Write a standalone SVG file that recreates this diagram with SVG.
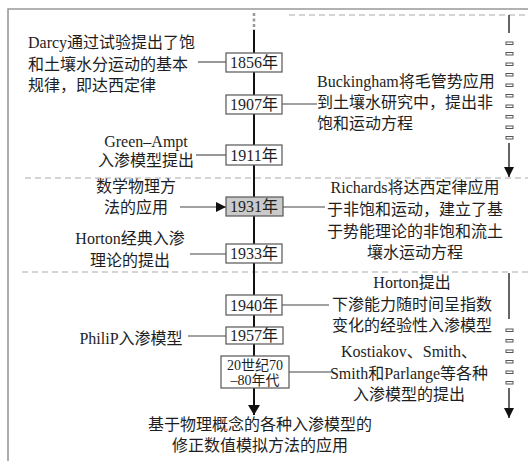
<svg xmlns="http://www.w3.org/2000/svg" width="528" height="461" viewBox="0 0 528 461">
<style>
text{font-family:"Liberation Serif","Noto Sans CJK SC",serif;font-size:16px;fill:#1e1e1e}
.c{text-anchor:middle}
.box{fill:#fff;stroke:#555;stroke-width:1.2}
.con{stroke:#444;stroke-width:1.1;fill:none}
.dash{stroke:#aaa;stroke-width:1.2;stroke-dasharray:6 4;fill:none}
.mark{fill:#fff;stroke:#555;stroke-width:1}
.sm{font-size:14px}
</style>
<defs>
<marker id="ah" viewBox="0 0 10 10" refX="10" refY="5" markerWidth="10" markerHeight="10" markerUnits="userSpaceOnUse" orient="auto"><path d="M0,0 L10,5 L0,10 Z" fill="#111"/></marker>
<marker id="ahb" viewBox="0 0 10 12" refX="10" refY="6" markerWidth="12" markerHeight="12" markerUnits="userSpaceOnUse" orient="auto"><path d="M0,0 L10,6 L0,12 Z" fill="#111"/></marker>
</defs>
<rect width="528" height="461" fill="#fff"/>
<path d="M8,461 V9 H528" stroke="#999" stroke-width="1.6" fill="none"/>
<g id="separators">
<line class="dash" x1="289" y1="15" x2="528" y2="15"/>
<line class="dash" x1="25" y1="178" x2="528" y2="178"/>
<line class="dash" x1="22" y1="272" x2="528" y2="272"/>
</g>
<g id="connectors">
<line x1="254" y1="13" x2="254" y2="30" stroke="#999" stroke-width="2.5" stroke-dasharray="3 2.5"/>
<line x1="254" y1="30" x2="254" y2="403" stroke="#111" stroke-width="2"/>
<line x1="254" y1="386" x2="254" y2="415" stroke="#111" stroke-width="2" marker-end="url(#ahb)"/>
<line class="con" x1="198" y1="62" x2="226" y2="62"/>
<line class="con" x1="282" y1="104" x2="317" y2="104"/>
<line class="con" x1="196" y1="155" x2="226" y2="155"/>
<line class="con" x1="180" y1="207" x2="226" y2="207" stroke="#111" marker-end="url(#ah)"/>
<line class="con" x1="283" y1="207" x2="325" y2="207"/>
<line class="con" x1="190" y1="254" x2="226" y2="254"/>
<line class="con" x1="282" y1="305" x2="329" y2="305"/>
<line class="con" x1="188" y1="336" x2="226" y2="336"/>
<line class="con" x1="289" y1="372" x2="331" y2="372"/>
</g>
<g id="time-arrow-1">
<line x1="509" y1="15" x2="509" y2="33" stroke="#333" stroke-width="1.5"/>
<rect class="mark" x="506" y="42" width="7" height="2.5"/>
<rect class="mark" x="506" y="52.5" width="7" height="2.5"/>
<rect class="mark" x="506" y="63" width="7" height="2.5"/>
<rect class="mark" x="506" y="73.5" width="7" height="2.5"/>
<rect class="mark" x="506" y="84" width="7" height="2.5"/>
<rect class="mark" x="506" y="94.5" width="7" height="2.5"/>
<rect class="mark" x="506" y="105" width="7" height="2.5"/>
<rect class="mark" x="506" y="115.5" width="7" height="2.5"/>
<rect class="mark" x="506" y="126" width="7" height="2.5"/>
<rect class="mark" x="506" y="136.5" width="7" height="2.5"/>
<line x1="509" y1="143" x2="509" y2="177" stroke="#333" stroke-width="1.5" marker-end="url(#ah)"/>
</g>
<g id="time-arrow-2">
<line x1="509" y1="273" x2="509" y2="319" stroke="#333" stroke-width="1.5"/>
<rect class="mark" x="506" y="329" width="7" height="2.5"/>
<rect class="mark" x="506" y="339.5" width="7" height="2.5"/>
<rect class="mark" x="506" y="350" width="7" height="2.5"/>
<rect class="mark" x="506" y="360.5" width="7" height="2.5"/>
<rect class="mark" x="506" y="371" width="7" height="2.5"/>
<rect class="mark" x="506" y="381.5" width="7" height="2.5"/>
<line x1="509" y1="388" x2="509" y2="418" stroke="#333" stroke-width="1.5" marker-end="url(#ah)"/>
</g>
<g id="y1856"><rect class="box" x="226" y="53" width="56" height="19"/><text class="c" x="254" y="68">1856年</text></g>
<g id="y1907"><rect class="box" x="226" y="95" width="56" height="19"/><text class="c" x="254" y="110">1907年</text></g>
<g id="y1911"><rect class="box" x="226" y="145" width="56" height="20"/><text class="c" x="254" y="161">1911年</text></g>
<g id="y1931"><rect class="box" x="226" y="197" width="57" height="19" style="fill:#cacaca"/><text class="c" x="254" y="212">1931年</text></g>
<g id="y1933"><rect class="box" x="226" y="244" width="56" height="19"/><text class="c" x="254" y="259">1933年</text></g>
<g id="y1940"><rect class="box" x="226" y="295" width="56" height="20"/><text class="c" x="254" y="311">1940年</text></g>
<g id="y1957"><rect class="box" x="226" y="327" width="57" height="17"/><text class="c" x="254" y="341">1957年</text></g>
<g id="y1970s"><rect class="box" x="221" y="356" width="68" height="32"/><text class="c sm" x="255" y="370">20世纪70</text><text class="c sm" x="255" y="385">–80年代</text></g>
<g id="darcy"><text x="28" y="48">Darcy通过试验提出了饱</text><text x="28" y="70">和土壤水分运动的基本</text><text x="28" y="91">规律，即达西定律</text></g>
<g id="buckingham"><text x="317" y="87">Buckingham将毛管势应用</text><text x="317" y="108">到土壤水研究中，提出非</text><text x="317" y="129">饱和运动方程</text></g>
<g id="green-ampt"><text class="c" x="146" y="147">Green–Ampt</text><text class="c" x="146" y="166">入渗模型提出</text></g>
<g id="math"><text class="c" x="136" y="192">数学物理方</text><text class="c" x="136" y="213">法的应用</text></g>
<g id="richards"><text class="c" x="415" y="193">Richards将达西定律应用</text><text class="c" x="415" y="215">于非饱和运动，建立了基</text><text class="c" x="415" y="237">于势能理论的非饱和流土</text><text class="c" x="415" y="258">壤水运动方程</text></g>
<g id="horton1"><text class="c" x="130" y="244">Horton经典入渗</text><text class="c" x="130" y="266">理论的提出</text></g>
<g id="horton2"><text class="c" x="412" y="288">Horton提出</text><text class="c" x="412" y="310">下渗能力随时间呈指数</text><text class="c" x="412" y="331">变化的经验性入渗模型</text></g>
<g id="philip"><text class="c" x="131" y="344">PhiliP入渗模型</text></g>
<g id="kostiakov"><text class="c" x="409" y="357">Kostiakov、Smith、</text><text class="c" x="409" y="379">Smith和Parlange等各种</text><text class="c" x="409" y="400">入渗模型的提出</text></g>
<g id="modern"><text class="c" x="260" y="430">基于物理概念的各种入渗模型的</text><text class="c" x="260" y="451">修正数值模拟方法的应用</text></g>
</svg>
